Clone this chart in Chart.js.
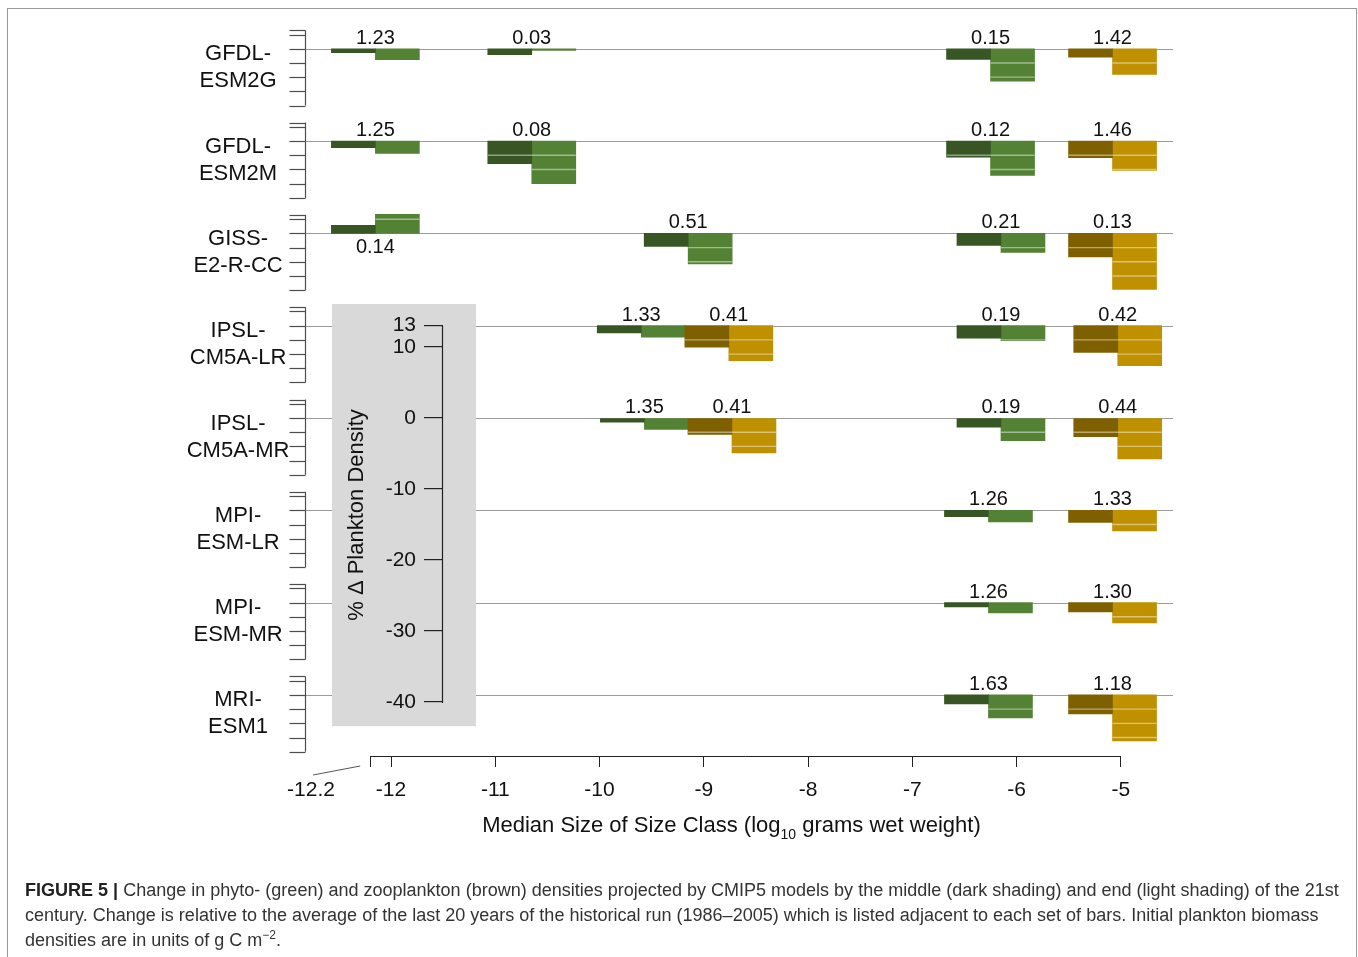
<!DOCTYPE html>
<html>
<head>
<meta charset="utf-8">
<script src="https://cdn.jsdelivr.net/npm/chart.js@4.4.1/dist/chart.umd.min.js"></script>
<style>
html,body{margin:0;padding:0;background:#fff;}
body{width:1358px;height:957px;position:relative;overflow:hidden;font-family:"Liberation Sans",Arial,Helvetica,sans-serif;}
#wrap{position:absolute;left:0;top:0;width:1358px;height:850px;}
#frame{position:absolute;left:7px;top:8px;width:1348px;height:1000px;border:1px solid #9a9a9a;pointer-events:none;}
#caption{position:absolute;left:25px;top:878px;font-size:18px;line-height:25px;color:#333;white-space:nowrap;transform-origin:0 0;}
#caption b{color:#222;}
#caption span{display:block;}
#caption sup{font-size:12px;line-height:0;vertical-align:7px;}
</style>
</head>
<body>
<div id="wrap"><canvas id="c"></canvas></div>
<div id="frame"></div>
<div id="caption"><span id="cap1"><b>FIGURE 5 |</b> Change in phyto- (green) and zooplankton (brown) densities projected by CMIP5 models by the middle (dark shading) and end (light shading) of the 21st</span><span>century. Change is relative to the average of the last 20 years of the historical run (1986–2005) which is listed adjacent to each set of bars. Initial plankton biomass</span><span>densities are in units of g C m<sup>−2</sup>.</span></div>
<script>
// ---------------- data ----------------
const models = [['GFDL-','ESM2G'],['GFDL-','ESM2M'],['GISS-','E2-R-CC'],['IPSL-','CM5A-LR'],['IPSL-','CM5A-MR'],['MPI-','ESM-LR'],['MPI-','ESM-MR'],['MRI-','ESM1']];
const sizeTicks = [-12.2,-12,-11,-10,-9,-8,-7,-6,-5];
const densityTicks = [13,10,0,-10,-20,-30,-40];
const rowTicks = [2.6,2,0,-2,-4,-6,-8];
// one entry per size class shown (model index, plankton kind, median size, initial density, % change mid / end of century)
const groupModel = [0,0,0,0, 1,1,1,1, 2,2,2,2, 3,3,3,3, 4,4,4,4, 5,5, 6,6, 7,7];
const groupKind  = ['P','P','P','Z', 'P','P','P','Z', 'P','P','P','Z', 'P','Z','P','Z', 'P','Z','P','Z', 'P','Z', 'P','Z', 'P','Z'];
const groupSize  = [-12.15,-10.65,-6.25,-5.08, -12.15,-10.65,-6.25,-5.08, -12.15,-9.15,-6.15,-5.08, -9.60,-8.76,-6.15,-5.03, -9.57,-8.73,-6.15,-5.03, -6.27,-5.08, -6.27,-5.08, -6.27,-5.08];
const initialDensity = [1.23,0.03,0.15,1.42, 1.25,0.08,0.12,1.46, 0.14,0.51,0.21,0.13, 1.33,0.41,0.19,0.42, 1.35,0.41,0.19,0.44, 1.26,1.33, 1.26,1.30, 1.63,1.18];
const changeMid = [-0.56,-0.85,-1.50,-1.18, -0.94,-3.20,-2.25,-2.35, 1.13,-1.83,-1.69,-3.30, -1.03,-3.04,-1.77,-3.75, -0.60,-2.30,-1.30,-2.63, -0.89,-1.69, -0.62,-1.32, -1.27,-2.67];
const changeEnd = [-1.55,-0.24,-4.56,-3.62, -1.75,-6.00,-4.85,-4.14, 2.68,-4.30,-2.68,-7.90, -1.63,-4.93,-2.11,-5.63, -1.60,-4.90,-3.20,-5.77, -1.64,-2.91, -1.45,-2.87, -3.24,-6.48];

// ---------------- layout / style ----------------
const FONT = '"Liberation Sans", Arial, Helvetica, sans-serif';
const X_MIN = -12.825, X_MAX = -4.5, Y_MIN = -47.6, Y_MAX = 56.05;
const ROW_STEP = 13, REF_ROW = 4, SEG = 2;
const INSET_X = -11.5, INSET_TICK = 19, INSET_PAD = 8;
const BOX_X = [-12.566, -11.185], BOX_Y = [-43.4, 16.06];
const ROW_LABEL_X = -13.467, ROW_TICK_LEN = 16;
const EDGE_LABEL_X = -12.767, XTITLE_X = -8.735;
const YTITLE_X = -12.326, YTITLE_Y = -13.66;
const COLORS = {P: ['#375623', '#548235'], Z: ['#7f6000', '#bf9000']};

const rowOffset = m => (REF_ROW - m) * ROW_STEP;
const px = (s, v) => s.getPixelForValue(v);

const midData = groupSize.map((s, i) => ({x: s, y: [rowOffset(groupModel[i]), rowOffset(groupModel[i]) + changeMid[i]]}));
const endData = groupSize.map((s, i) => ({x: s, y: [rowOffset(groupModel[i]), rowOffset(groupModel[i]) + changeEnd[i]]}));

Chart.defaults.font.family = FONT;

const decor = {
  id: 'decor',
  beforeDraw(chart) {
    const {ctx, scales: {x, y}} = chart;
    ctx.save();
    ctx.strokeStyle = '#9c9c9c'; ctx.lineWidth = 1;
    models.forEach((_, m) => {
      const yy = Math.round(px(y, rowOffset(m))) + 0.5;
      ctx.beginPath(); ctx.moveTo(px(x, X_MIN), yy); ctx.lineTo(px(x, X_MAX), yy); ctx.stroke();
    });
    ctx.fillStyle = '#d9d9d9';
    const x1 = px(x, BOX_X[0]), x2 = px(x, BOX_X[1]), y1 = px(y, BOX_Y[1]), y2 = px(y, BOX_Y[0]);
    ctx.fillRect(x1, y1, x2 - x1, y2 - y1);
    ctx.restore();
  },
  afterDatasetsDraw(chart) {
    const {ctx, scales: {y}} = chart;
    ctx.save();
    ctx.strokeStyle = 'rgba(255,255,255,0.45)'; ctx.lineWidth = 1.4;
    chart.data.datasets.forEach((ds, di) => {
      const meta = chart.getDatasetMeta(di);
      meta.data.forEach((el, j) => {
        const [a, b] = ds.data[j].y;
        const {x: cx, width} = el.getProps(['x', 'width'], true);
        const l = cx - width / 2, r = cx + width / 2;
        const dir = b > a ? 1 : -1;
        for (let k = SEG; k < Math.abs(b - a) - 0.08; k += SEG) {
          const yy = px(y, a + dir * k);
          ctx.beginPath(); ctx.moveTo(l, yy); ctx.lineTo(r, yy); ctx.stroke();
        }
      });
    });
    ctx.restore();
  },
  afterDraw(chart) {
    const {ctx, chartArea, scales: {x, y}} = chart;
    ctx.save();
    // per-row axes
    ctx.strokeStyle = '#4d4d4d'; ctx.lineWidth = 1.2;
    const ax = Math.round(px(x, X_MIN)) + 0.5;
    models.forEach((_, m) => {
      const off = rowOffset(m);
      ctx.beginPath();
      ctx.moveTo(ax, px(y, off + rowTicks[0]));
      ctx.lineTo(ax, px(y, off + rowTicks[rowTicks.length - 1]));
      ctx.stroke();
      rowTicks.forEach(t => {
        const yy = Math.round(px(y, off + t)) + 0.5;
        ctx.beginPath(); ctx.moveTo(ax - ROW_TICK_LEN, yy); ctx.lineTo(ax, yy); ctx.stroke();
      });
    });
    // row labels
    ctx.fillStyle = '#111'; ctx.textAlign = 'center'; ctx.textBaseline = 'middle';
    ctx.font = '22px ' + FONT;
    models.forEach((lines, m) => {
      const by = px(y, rowOffset(m));
      ctx.fillText(lines[0], px(x, ROW_LABEL_X), by + 5.5);
      ctx.fillText(lines[1], px(x, ROW_LABEL_X), by + 32.5);
    });
    // initial density labels
    ctx.font = '20px ' + FONT;
    groupSize.forEach((s, i) => {
      const by = px(y, rowOffset(groupModel[i]));
      const up = Math.max(changeMid[i], changeEnd[i]) > 0;
      ctx.fillText(initialDensity[i].toFixed(2), px(x, s), up ? by + 14 : by - 10.5);
    });
    // x axis line
    ctx.strokeStyle = '#222'; ctx.lineWidth = 1;
    const ay = Math.round(chartArea.bottom) + 0.5;
    ctx.beginPath(); ctx.moveTo(px(x, sizeTicks[0]), ay); ctx.lineTo(px(x, sizeTicks[sizeTicks.length - 1]), ay); ctx.stroke();
    // edge label -12.2 with leader
    ctx.font = '21px ' + FONT;
    const lx = px(x, EDGE_LABEL_X);
    ctx.fillText(String(sizeTicks[0]), lx, x.top + 34);
    ctx.strokeStyle = '#555';
    ctx.beginPath(); ctx.moveTo(lx + 2, x.top + 19); ctx.lineTo(px(x, sizeTicks[0]) - 10, x.top + 10); ctx.stroke();
    // inset axis line + labels
    ctx.strokeStyle = '#222'; ctx.lineWidth = 1.2;
    const ixr = Math.round(px(x, INSET_X));
    const ix = ixr - 0.5;
    ctx.beginPath();
    ctx.moveTo(ix, Math.round(px(y, densityTicks[0])) - 0.1);
    ctx.lineTo(ix, Math.round(px(y, densityTicks[densityTicks.length - 1])) + 1);
    ctx.stroke();
    ctx.textAlign = 'right';
    ctx.font = '21px ' + FONT;
    densityTicks.forEach(v => ctx.fillText(String(v), ixr - INSET_TICK - INSET_PAD, px(y, v)));
    // inset y title
    ctx.save();
    ctx.textAlign = 'center';
    ctx.translate(px(x, YTITLE_X), px(y, YTITLE_Y));
    ctx.rotate(-Math.PI / 2);
    ctx.font = '22px ' + FONT;
    ctx.fillText('% Δ Plankton Density', 0, 0);
    ctx.restore();
    // x title with subscript
    const t1 = 'Median Size of Size Class (log', t2 = '10', t3 = ' grams wet weight)';
    ctx.font = '22px ' + FONT;
    const w1 = ctx.measureText(t1).width, w3 = ctx.measureText(t3).width;
    ctx.font = '14px ' + FONT;
    const w2 = ctx.measureText(t2).width;
    let sx = px(x, XTITLE_X) - (w1 + w2 + w3) / 2;
    const ty = x.top + 70;
    ctx.textAlign = 'left';
    ctx.font = '22px ' + FONT; ctx.fillText(t1, sx, ty); sx += w1;
    ctx.font = '14px ' + FONT; ctx.fillText(t2, sx, ty + 9); sx += w2;
    ctx.font = '22px ' + FONT; ctx.fillText(t3, sx, ty);
    ctx.restore();
  }
};

new Chart(document.getElementById('c'), {
  type: 'bar',
  data: {
    datasets: [
      {label: 'Mid century', data: midData, backgroundColor: c => COLORS[groupKind[c.dataIndex]][0]},
      {label: 'End of century', data: endData, backgroundColor: c => COLORS[groupKind[c.dataIndex]][1]}
    ]
  },
  options: {
    responsive: true, maintainAspectRatio: false, animation: false, devicePixelRatio: 1,
    layout: {padding: {left: 305, right: 185, top: 20, bottom: 0}},
    plugins: {legend: {display: false}, tooltip: {enabled: false}, title: {display: false}},
    datasets: {bar: {grouped: true, barThickness: 44, borderWidth: 0}},
    scales: {
      x: {
        type: 'linear', min: X_MIN, max: X_MAX, position: 'bottom', offset: false,
        afterBuildTicks: s => { s.ticks = sizeTicks.map(v => ({value: v})); },
        afterFit: s => { s.height = 94; },
        ticks: {autoSkip: false, maxRotation: 0, minRotation: 0, padding: 11, color: '#111', font: {size: 21},
          callback: v => v === sizeTicks[0] ? '' : String(v)},
        grid: {offset: false, drawOnChartArea: false, drawTicks: true, tickLength: 11, color: '#222', lineWidth: 1},
        border: {display: false}
      },
      y: {
        type: 'linear', min: Y_MIN, max: Y_MAX, position: {x: INSET_X}, beginAtZero: false,
        afterBuildTicks: s => { s.ticks = densityTicks.map(v => ({value: v})); },
        ticks: {display: false, autoSkip: false},
        grid: {drawOnChartArea: false, drawTicks: true, tickLength: INSET_TICK, color: '#222', lineWidth: 1.2},
        border: {display: false}
      }
    }
  },
  plugins: [decor]
});

// fit caption line width to the reference
(function () {
  const cap = document.getElementById('caption');
  const w = document.getElementById('cap1').scrollWidth;
  const target = 1314;
  if (w > 0) cap.style.transform = 'scaleX(' + (target / w).toFixed(4) + ')';
})();
</script>
</body>
</html>
